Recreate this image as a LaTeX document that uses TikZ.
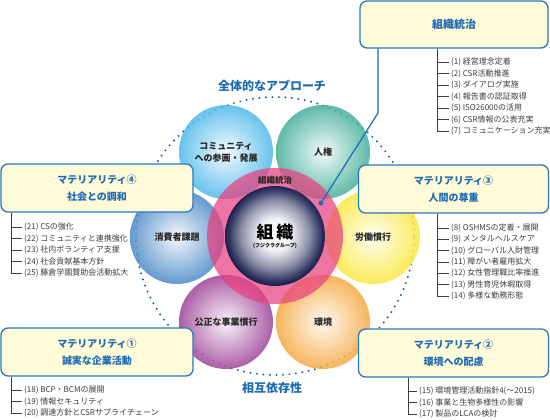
\documentclass[tikz,border=0pt]{standalone}
\usepackage{fontspec}
\setmainfont{Noto Sans CJK JP}
\usepackage{tikz}
\usetikzlibrary{positioning}

\definecolor{mblue}{HTML}{2878C0}
\definecolor{mtitle}{HTML}{1C6AB4}
\definecolor{mcream}{HTML}{FFFBD8}
\definecolor{mgray}{HTML}{3C3C3C}
\definecolor{mdots}{HTML}{1D5A9E}
\definecolor{mpink}{HTML}{E8407F}
\definecolor{mnavy}{HTML}{1A1F50}
\definecolor{ccomm}{HTML}{4DB8EA}
\definecolor{cteal}{HTML}{42AE98}
\definecolor{cyell}{HTML}{FAE73C}
\definecolor{corng}{HTML}{F5A840}
\definecolor{cpurp}{HTML}{9E4298}
\definecolor{csteel}{HTML}{4A88C6}

\pgfdeclareradialshading{core}{\pgfpoint{0bp}{1bp}}{color(0bp)=(white);
  color(8bp)=(white!94!mnavy); color(17bp)=(mnavy!50); color(23bp)=(mnavy!90);
  color(25bp)=(mnavy); color(50bp)=(mnavy)}

\begin{document}
\begin{tikzpicture}[
x=1pt,y=-1pt,
mbox/.style={draw=mblue,line width=1.3pt,rounded corners=7pt,fill=mcream,
  align=center,text=mtitle,font=\fontsize{10}{17}\selectfont\bfseries},
item/.style={anchor=west,inner sep=2pt,text=mgray,font=\fontsize{8}{9}\selectfont},
trunk/.style={draw=mgray,line width=0.6pt},
petal/.style={circle,minimum size=94pt,inner sep=0pt,fill opacity=0.85,text opacity=1,
  align=center,text=black!85,font=\fontsize{9}{12}\selectfont\bfseries},
headline/.style={text=mtitle,font=\fontsize{12}{14}\selectfont\bfseries}]
\useasboundingbox (0,0) rectangle (550,420);

% dotted ring
\coordinate (c) at (275,236);
\draw[mdots,line width=2.2pt,line cap=round,dash pattern=on 0pt off 6.5pt]
  (c) circle[radius=139pt];

% seven core subjects
\foreach \name/\pos/\col/\txt in {
  comm/{226,152}/ccomm/{コミュニティ\\への参画・発展},
  hr/{323,152}/cteal/人権,
  cons/{177,237}/csteel/消費者課題,
  lab/{373,237}/cyell/労働慣行,
  fair/{226,322}/cpurp/公正な事業慣行,
  env/{323,322}/corng/環境}
  \node[petal,inner color=\col!8,outer color=\col] (\name) at (\pos) {\txt};

\node[circle,minimum size=136pt,fill=mpink,fill opacity=0.72] (ring) at (c) {};
\node[text=black!85,font=\fontsize{8.5}{10}\selectfont\bfseries] (gov) at (275,180) {組織統治};
\node[circle,minimum size=100pt,inner sep=0pt,shading=core,
  align=center,text=black] (z) at (c)
  {\fontsize{17}{20}\selectfont\bfseries 組\hspace{3pt}織\\[-3pt]
   \fontsize{5}{6}\selectfont\bfseries (フジクラグループ)};

\node[headline] (approach) at (272,86) {全体的なアプローチ};
\node[headline] (mutual) at (272,388) {相互依存性};

% materiality boxes
\node[mbox,minimum width=188pt,minimum height=47pt,font=\fontsize{11}{14}\selectfont\bfseries]
  (tbox) at (454,24.5) {組織統治};
\node[mbox,minimum width=192pt,minimum height=48pt] (m4) at (97,188)
  {マテリアリティ④\\社会との調和};
\node[mbox,minimum width=190pt,minimum height=48pt] (m3) at (453.5,189)
  {マテリアリティ③\\人間の尊重};
\node[mbox,minimum width=192pt,minimum height=48pt] (m1) at (97,352)
  {マテリアリティ①\\誠実な企業活動};
\node[mbox,minimum width=190pt,minimum height=48pt] (m2) at (453.5,353)
  {マテリアリティ②\\環境への配慮};

% connector to the core
\node[circle,fill=mtitle,inner sep=1.7pt] (dot) at (321,203) {};
\coordinate (bend) at (378,113);
\draw[mtitle,line width=1.2pt] (tbox.south -| bend) -- (bend) -- (dot);

% item lists
\coordinate (t0) at (437,0 |- tbox.south);
\foreach \t [count=\i] in {(1) 経営理念定着,(2) CSR活動推進,(3) ダイアログ実施,
  (4) 報告書の認証取得,(5) ISO26000の活用,(6) CSR情報の公表充実,(7) コミュニケーション充実}{
  \node[item] (t\i) at (449,50.5+11.5*\i) {\t};
  \draw[trunk] (t0) |- (t\i.west);
}
\coordinate (r0) at (437,0 |- m3.south);
\foreach \t [count=\i] in {(8) OSHMSの定着・展開,(9) メンタルヘルスケア,(10) グローバル人財管理,
  (11) 障がい者雇用拡大,(12) 女性管理職比率推進,(13) 男性育児休暇取得,(14) 多様な勤務形態}{
  \node[item] (r\i) at (449,216.6+11.35*\i) {\t};
  \draw[trunk] (r0) |- (r\i.west);
}
\coordinate (l0) at (11,0 |- m4.south);
\foreach \t [count=\i] in {(21) CSの強化,(22) コミュニティと連携強化,(23) 社内ボランティア支援,
  (24) 社会貢献基本方針,(25) 藤倉学園賛助会活動拡大}{
  \node[item] (l\i) at (22,215.5+11.5*\i) {\t};
  \draw[trunk] (l0) |- (l\i.west);
}
\coordinate (b0) at (11,0 |- m1.south);
\foreach \t [count=\i] in {(18) BCP・BCMの展開,(19) 情報セキュリティ,(20) 調達方針とCSRサプライチェーン}{
  \node[item] (b\i) at (22,378.5+11.5*\i) {\t};
  \draw[trunk] (b0) |- (b\i.west);
}
\coordinate (e0) at (408,0 |- m2.south);
\foreach \t [count=\i] in {(15) 環境管理活動指針4(〜2015),(16) 事業と生物多様性の影響,(17) 製品のLCAの検討}{
  \node[item] (e\i) at (417,379.5+11.5*\i) {\t};
  \draw[trunk] (e0) |- (e\i.west);
}
\end{tikzpicture}
\end{document}
